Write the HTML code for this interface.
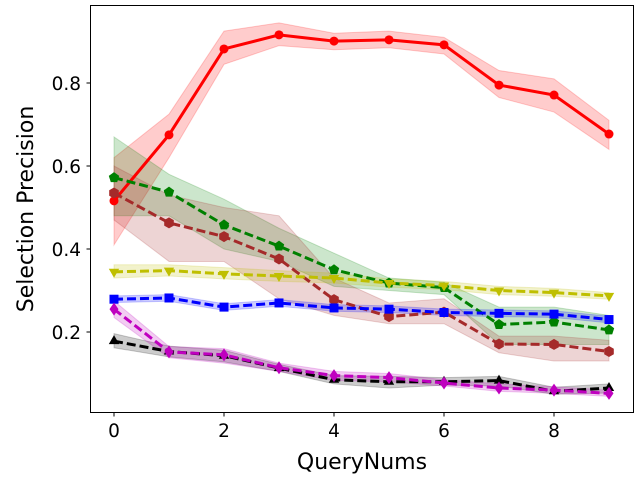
<!DOCTYPE html>
<html><head><meta charset="utf-8"><style>
html,body{margin:0;padding:0;background:#fff;}
svg text{font-family:"DejaVu Sans","Liberation Sans",sans-serif;}
</style></head><body>
<svg id="chart" width="640" height="480" xmlns="http://www.w3.org/2000/svg">
<rect x="0" y="0" width="640" height="480" fill="#fff"/>
<g id="bands"></g>
<g id="lines"></g>
<rect x="90.5" y="5.5" width="543" height="407" fill="none" stroke="#000" stroke-width="1"/>
<g id="axes"></g>
<text x="362" y="469" font-size="22" text-anchor="middle">QueryNums</text>
<text transform="translate(33,209) rotate(-90)" font-size="22" text-anchor="middle">Selection Precision</text>
</svg>
<script>
const xs=[0,1,2,3,4,5,6,7,8,9];
const xTicks=[0,2,4,6,8];
const yTicks=[0.2,0.4,0.6,0.8];
const redMean=[0.516,0.675,0.882,0.916,0.901,0.904,0.892,0.795,0.771,0.677];
const redLo=[0.41,0.62,0.845,0.89,0.88,0.885,0.87,0.765,0.73,0.64];
const redHi=[0.62,0.725,0.925,0.945,0.92,0.925,0.91,0.83,0.81,0.71];
const greenMean=[0.572,0.537,0.458,0.407,0.350,0.318,0.307,0.218,0.224,0.205];
const greenLo=[0.48,0.48,0.40,0.37,0.31,0.30,0.29,0.17,0.17,0.17];
const greenHi=[0.67,0.58,0.52,0.45,0.39,0.33,0.32,0.26,0.26,0.24];
const brownMean=[0.535,0.463,0.430,0.376,0.278,0.237,0.248,0.171,0.170,0.153];
const brownLo=[0.47,0.37,0.37,0.28,0.24,0.22,0.22,0.15,0.13,0.13];
const brownHi=[0.60,0.53,0.50,0.48,0.33,0.27,0.28,0.19,0.19,0.18];
const yellowMean=[0.345,0.348,0.340,0.335,0.330,0.318,0.312,0.300,0.295,0.287];
const yellowLo=[0.330,0.335,0.328,0.322,0.318,0.308,0.302,0.290,0.286,0.279];
const yellowHi=[0.362,0.362,0.355,0.348,0.342,0.328,0.322,0.310,0.305,0.295];
const blueMean=[0.279,0.282,0.260,0.270,0.258,0.255,0.247,0.245,0.243,0.230];
const blueLo=[0.271,0.274,0.252,0.262,0.250,0.247,0.240,0.237,0.235,0.222];
const blueHi=[0.287,0.290,0.268,0.278,0.266,0.263,0.255,0.253,0.251,0.238];
const blackMean=[0.178,0.153,0.143,0.113,0.085,0.080,0.080,0.083,0.057,0.065];
const blackLo=[0.162,0.140,0.128,0.105,0.075,0.065,0.072,0.070,0.050,0.053];
const blackHi=[0.196,0.166,0.156,0.122,0.095,0.093,0.090,0.093,0.067,0.075];
const magentaMean=[0.255,0.152,0.145,0.114,0.095,0.090,0.077,0.065,0.060,0.052];
const magentaLo=[0.235,0.138,0.125,0.105,0.083,0.080,0.070,0.057,0.052,0.045];
const magentaHi=[0.275,0.165,0.160,0.125,0.105,0.100,0.085,0.075,0.068,0.060];

const NS="http://www.w3.org/2000/svg";
function X(v){return 114+v*55;}
function Y(v){return 415-v*415;}
function mk(tag,attrs,parent){const e=document.createElementNS(NS,tag);for(const k in attrs)e.setAttribute(k,attrs[k]);parent.appendChild(e);return e;}

const axes=document.getElementById('axes');
xTicks.forEach(t=>{
  const l=mk('line',{x1:X(t),x2:X(t),y1:412.5,y2:416.5,stroke:'#000'},axes);
  
  
  const tx=mk('text',{x:X(t),y:437,'font-size':18.5,'text-anchor':'middle'},axes);
  tx.textContent=t;
  
  
});
yTicks.forEach(t=>{
  const l=mk('line',{x1:86.5,x2:90.5,y1:Y(t),y2:Y(t),stroke:'#000'},axes);
  
  
  const tx=mk('text',{x:81,y:Y(t)+7,'font-size':18.5,'text-anchor':'end'},axes);
  tx.textContent=t.toFixed(1);
  
  
});

const series=[
 {n:'red',m:redMean,lo:redLo,hi:redHi,c:'#ff0000',dash:null,mk:'circle'},
 {n:'green',m:greenMean,lo:greenLo,hi:greenHi,c:'#008000',dash:'9,4',mk:'pentagon'},
 {n:'brown',m:brownMean,lo:brownLo,hi:brownHi,c:'#a52a2a',dash:'9,4',mk:'hexagon'},
 {n:'yellow',m:yellowMean,lo:yellowLo,hi:yellowHi,c:'#bfbf00',dash:'9,4',mk:'tri-down'},
 {n:'blue',m:blueMean,lo:blueLo,hi:blueHi,c:'#0000ff',dash:'9,4',mk:'square'},
 {n:'black',m:blackMean,lo:blackLo,hi:blackHi,c:'#000000',dash:'9,4',mk:'tri-up'},
 {n:'magenta',m:magentaMean,lo:magentaLo,hi:magentaHi,c:'#bf00bf',dash:'9,4',mk:'diamond'}
];
const bands=document.getElementById('bands'),lines=document.getElementById('lines');
function poly(cx,cy,r,n,rot){let p=[];for(let i=0;i<n;i++){const a=rot+i*2*Math.PI/n;p.push((cx+r*Math.cos(a)).toFixed(1)+','+(cy+r*Math.sin(a)).toFixed(1));}return p.join(' ');}
series.forEach(s=>{
  let pts=xs.map((x,i)=>X(x)+','+Y(s.hi[i]));
  for(let i=xs.length-1;i>=0;i--)pts.push(X(xs[i])+','+Y(s.lo[i]));
  const b=mk('polygon',{points:pts.join(' '),fill:s.c,'fill-opacity':0.2,stroke:s.c,'stroke-opacity':0.2},bands);
  
  
});
series.forEach(s=>{
  const a={points:xs.map((x,i)=>X(x)+','+Y(s.m[i])).join(' '),fill:'none',stroke:s.c,'stroke-width':3};
  if(s.dash)a['stroke-dasharray']=s.dash;
  const pl=mk('polyline',a,lines);
  
  
  xs.forEach((x,i)=>{
    const cx=X(x),cy=Y(s.m[i]);let e;
    if(s.mk==='circle')e=mk('circle',{cx:cx,cy:cy,r:4.5,fill:s.c},lines);
    else if(s.mk==='square')e=mk('rect',{x:cx-4.5,y:cy-4.5,width:9,height:9,fill:s.c},lines);
    else if(s.mk==='pentagon')e=mk('polygon',{points:poly(cx,cy,5.5,5,-Math.PI/2),fill:s.c},lines);
    else if(s.mk==='hexagon')e=mk('polygon',{points:poly(cx,cy,5.5,6,-Math.PI/2),fill:s.c},lines);
    else if(s.mk==='tri-down')e=mk('polygon',{points:poly(cx,cy,6,3,Math.PI/2),fill:s.c},lines);
    else if(s.mk==='tri-up')e=mk('polygon',{points:poly(cx,cy,6,3,-Math.PI/2),fill:s.c},lines);
    else e=mk('polygon',{points:`${cx},${cy-6.5} ${cx+4.5},${cy} ${cx},${cy+6.5} ${cx-4.5},${cy}`,fill:s.c},lines);
    
    
  });
});
</script>
</body></html>
